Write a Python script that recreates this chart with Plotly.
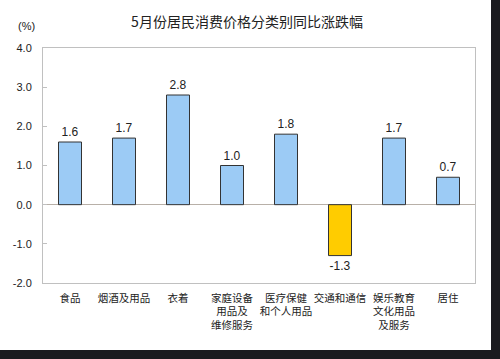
import plotly.graph_objects as go

categories = ["食品", "烟酒及用品", "衣着", "家庭设备<br>用品及<br>维修服务", "医疗保健<br>和个人用品",
              "交通和通信", "娱乐教育<br>文化用品<br>及服务", "居住"]
values = [1.6, 1.7, 2.8, 1.0, 1.8, -1.3, 1.7, 0.7]
labels = ["1.6", "1.7", "2.8", "1.0", "1.8", "-1.3", "1.7", "0.7"]
tick_vals = [-2, -1, 0, 1, 2, 3, 4]
tick_text = ["-2.0", "-1.0", "0.0", "1.0", "2.0", "3.0", "4.0"]

colors = ["#ffcc00" if v < 0 else "#9ccbf5" for v in values]

num_font = "Liberation Sans, Arial, sans-serif"
cjk_font = "Noto Sans CJK SC, sans-serif"

fig = go.Figure(go.Bar(
    x=categories, y=values, text=labels, textposition="outside",
    textfont=dict(family=num_font, size=12, color="#222222"),
    marker=dict(color=colors, line=dict(color="#333333", width=1)),
    cliponaxis=False,
))

L, T, R, B = 43, 48, 25, 76
pw, ph = 500 - L - R, 359 - T - B

fig.update_layout(
    width=500, height=359,
    margin=dict(l=L, r=R, t=T, b=B, autoexpand=False),
    paper_bgcolor="white", plot_bgcolor="white",
    bargap=0.574,
    showlegend=False,
    title=dict(text="5月份居民消费价格分类别同比涨跌幅", x=0.494, xanchor="center",
               y=1 - 22 / 359, yanchor="middle",
               font=dict(family=cjk_font, size=14, color="#222222")),
    xaxis=dict(showline=True, linecolor="#c0c0c0", linewidth=1, mirror=True,
               ticks="", tickangle=0, automargin=False, ticklabelstandoff=5,
               tickfont=dict(family=cjk_font, size=10.5, color="#222222"),
               showgrid=False),
    yaxis=dict(range=[-2, 4], tickvals=tick_vals, ticktext=tick_text, automargin=False,
               showline=True, linecolor="#c0c0c0", linewidth=1, mirror=True,
               ticks="inside", ticklen=4, tickcolor="#c0c0c0", ticklabelstandoff=8,
               tickfont=dict(family=num_font, size=11, color="#222222"),
               showgrid=False, zeroline=True, zerolinecolor="#b8b0a8", zerolinewidth=1),
    annotations=[dict(text="(%)", xref="paper", yref="paper",
                      x=(26 - L) / pw, y=(T + ph - 26) / ph, xanchor="center", yanchor="middle",
                      showarrow=False, font=dict(family=num_font, size=11, color="#222222"))],
    shapes=[
        dict(type="rect", xref="paper", yref="paper", layer="above",
             x0=(491 - L) / pw, x1=1.2, y0=-0.5, y1=1.3,
             fillcolor="#1b1b1f", line=dict(width=0)),
        dict(type="rect", xref="paper", yref="paper", layer="above",
             x0=-0.2, x1=1.2, y0=-(350 - T - ph) / ph, y1=-0.5,
             fillcolor="#1b1b1f", line=dict(width=0)),
    ],
)

fig.write_html("out.html", config={"displayModeBar": False},
               post_script="document.body.style.margin='0';")
